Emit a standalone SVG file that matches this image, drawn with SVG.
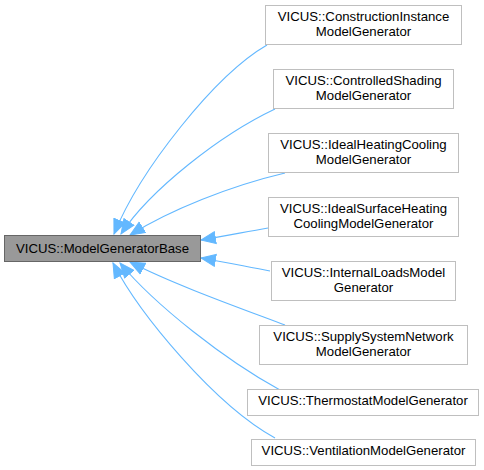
<svg xmlns="http://www.w3.org/2000/svg" width="484" height="470" viewBox="0 0 484 470">
<style>
.n rect{fill:#ffffff;stroke:#bfbfbf;stroke-width:1}
#base rect{fill:#999999;stroke:#666666}
text{font-family:"Liberation Sans",Arial,Helvetica,sans-serif;font-size:13.2px;fill:#000000;text-anchor:middle}
.e path{fill:none;stroke:#63b8ff;stroke-width:1.1}
</style>
<defs>
<marker id="ah" markerUnits="userSpaceOnUse" markerWidth="16" markerHeight="14" viewBox="0 0 16 14" refX="15" refY="7" orient="auto">
<path d="M0.5,1 L15,7 L0.5,13 z" fill="#63b8ff" stroke="#63b8ff" stroke-width="1"/>
</marker>
</defs>
<rect width="484" height="470" fill="#ffffff"/>
<g class="e">
<path d="M267,45 C215,75 140,170 114,234" marker-end="url(#ah)"/>
<path d="M275,109 C220,135 150,190 121,234" marker-end="url(#ah)"/>
<path d="M285,173 C230,186 170,210 130,235" marker-end="url(#ah)"/>
<path d="M268,228 C245,232 225,236 201,240" marker-end="url(#ah)"/>
<path d="M270,271 C248,267 225,262 201,258" marker-end="url(#ah)"/>
<path d="M285,325 C240,308 175,285 130,262" marker-end="url(#ah)"/>
<path d="M280,390 C225,360 155,305 120,263" marker-end="url(#ah)"/>
<path d="M275,438 C215,405 140,315 113,263" marker-end="url(#ah)"/>
</g>
<g id="base" class="n"><rect x="4.5" y="235.5" width="196" height="26"/><text x="102.5" y="252.5">VICUS::ModelGeneratorBase</text></g>
<g id="n1" class="n"><rect x="265.5" y="5.5" width="196" height="39"/><text x="363.5" y="21">VICUS::ConstructionInstance</text><text x="363.5" y="36">ModelGenerator</text></g>
<g id="n2" class="n"><rect x="273.5" y="69.5" width="180" height="39"/><text x="363.5" y="85">VICUS::ControlledShading</text><text x="363.5" y="100">ModelGenerator</text></g>
<g id="n3" class="n"><rect x="268.5" y="133.5" width="190" height="39"/><text x="363.5" y="149">VICUS::IdealHeatingCooling</text><text x="363.5" y="164">ModelGenerator</text></g>
<g id="n4" class="n"><rect x="268.5" y="197.5" width="190" height="39"/><text x="363.5" y="213">VICUS::IdealSurfaceHeating</text><text x="363.5" y="228">CoolingModelGenerator</text></g>
<g id="n5" class="n"><rect x="271.5" y="261.5" width="184" height="39"/><text x="363.5" y="277">VICUS::InternalLoadsModel</text><text x="363.5" y="292">Generator</text></g>
<g id="n6" class="n"><rect x="259.5" y="325.5" width="208" height="39"/><text x="363.5" y="341">VICUS::SupplySystemNetwork</text><text x="363.5" y="356">ModelGenerator</text></g>
<g id="n7" class="n"><rect x="247.5" y="389.5" width="231" height="26"/><text x="363" y="405">VICUS::ThermostatModelGenerator</text></g>
<g id="n8" class="n"><rect x="251.5" y="439.5" width="224" height="26"/><text x="363.5" y="455">VICUS::VentilationModelGenerator</text></g>
</svg>
